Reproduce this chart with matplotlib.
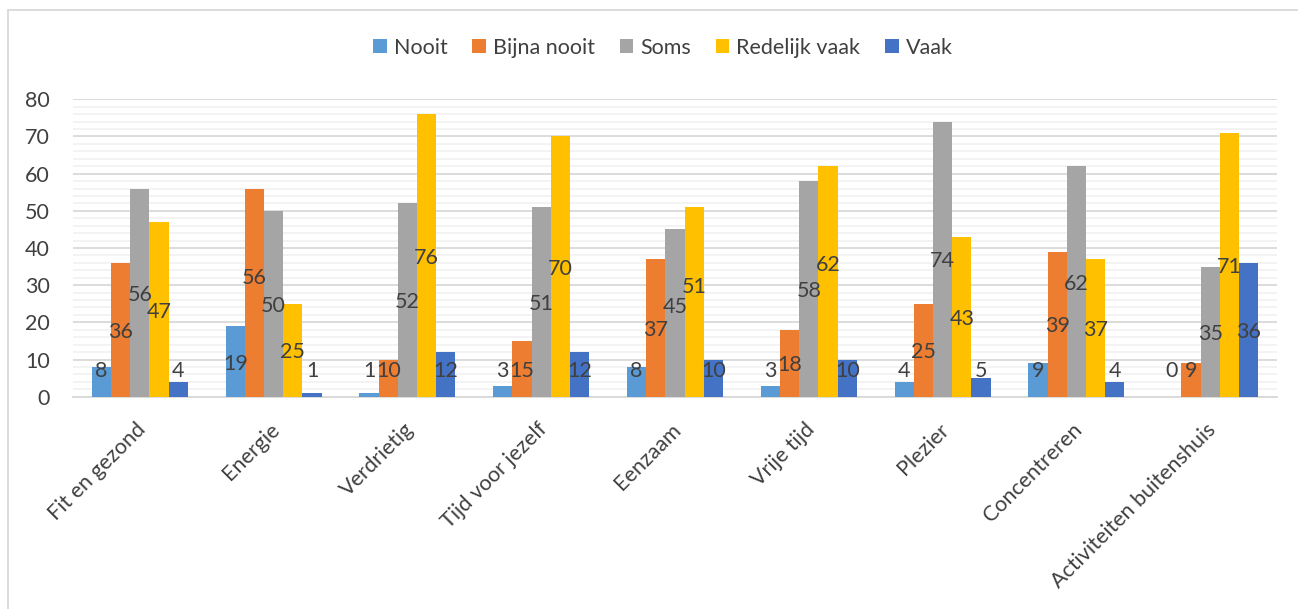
import matplotlib
matplotlib.use("Agg")
import matplotlib.pyplot as plt
import numpy as np
from matplotlib.transforms import ScaledTranslation
from matplotlib.lines import Line2D

categories = ["Fit en gezond", "Energie", "Verdrietig", "Tijd voor jezelf", "Eenzaam",
              "Vrije tijd", "Plezier", "Concentreren", "Activiteiten buitenshuis"]
series_names = ["Nooit", "Bijna nooit", "Soms", "Redelijk vaak", "Vaak"]
nooit = [8, 19, 1, 3, 8, 3, 4, 9, 0]
bijna_nooit = [36, 56, 10, 15, 37, 18, 25, 39, 9]
soms = [56, 50, 52, 51, 45, 58, 74, 62, 35]
redelijk_vaak = [47, 25, 76, 70, 51, 62, 43, 37, 71]
vaak = [4, 1, 12, 12, 10, 10, 5, 4, 36]
colors = ["#5B9BD5", "#ED7D31", "#A5A5A5", "#FFC000", "#4472C4"]

all_series = [nooit, bijna_nooit, soms, redelijk_vaak, vaak]

# manual label nudges (series index, category index) -> vertical shift in data units
label_nudge = {(1, 1): 4.4, (3, 4): 4.6, (2, 4): 2.3, (3, 5): 5.0}

plt.rcParams['font.family'] = ['Lato', 'DejaVu Sans']
text_color = "#404040"
fs = 15.5

fig = plt.figure(figsize=(12.98, 6.09), dpi=100)
ax = fig.add_axes([73/1298, 212.3/609, 1204/1298, 297.4/609])

x = np.arange(len(categories))
w = 0.1435
for i, (vals, col, name) in enumerate(zip(all_series, colors, series_names)):
    pos = x + (i - 2) * w
    ax.bar(pos, vals, width=w, color=col, label=name, zorder=3)
    for j, (px, v) in enumerate(zip(pos, vals)):
        ly = max(v / 2, 7.4) - 0.6 + label_nudge.get((i, j), 0)
        ax.text(px, ly, str(v), ha='center', va='center',
                fontsize=fs, color=text_color, zorder=4)

ax.set_xlim(-0.5, len(categories) - 0.5)
ax.set_ylim(0, 80)
ax.set_yticks(np.arange(0, 81, 10))
ax.set_yticks(np.arange(0, 81, 2), minor=True)
ax.grid(axis='y', which='major', color='#d9d9d9', linewidth=1.3, zorder=0)
ax.grid(axis='y', which='minor', color='#f2f2f2', linewidth=1.3, zorder=0)
for s in ['top', 'right', 'left']:
    ax.spines[s].set_visible(False)
ax.spines['bottom'].set_color('#d9d9d9')
ax.spines['bottom'].set_linewidth(1.3)
ax.tick_params(axis='y', which='both', length=0, pad=16.5, labelsize=fs, labelcolor=text_color)
ax.tick_params(axis='x', length=0, pad=4, labelsize=fs, labelcolor=text_color)
ax.set_xticks(x)
ax.set_xticklabels(categories, rotation=45, ha='right', va='center', rotation_mode='anchor')
offset = ScaledTranslation(3/100, -24/100, fig.dpi_scale_trans)
for lab in ax.get_xticklabels():
    lab.set_transform(lab.get_transform() + offset)

leg = fig.legend(loc='center', bbox_to_anchor=(663/1298, 1 - 48/609), ncol=5, frameon=False,
                 fontsize=fs, handlelength=0.62, handleheight=0.62, handletextpad=0.33,
                 columnspacing=1.16, labelcolor=text_color)

# chart border
fig.add_artist(Line2D([8/1298, 1.0], [1 - 10/609, 1 - 10/609], color='#d9d9d9', linewidth=1.3))
fig.add_artist(Line2D([8/1298, 8/1298], [0, 1 - 10/609], color='#d9d9d9', linewidth=1.3))

fig.savefig("out.png", dpi=100)
